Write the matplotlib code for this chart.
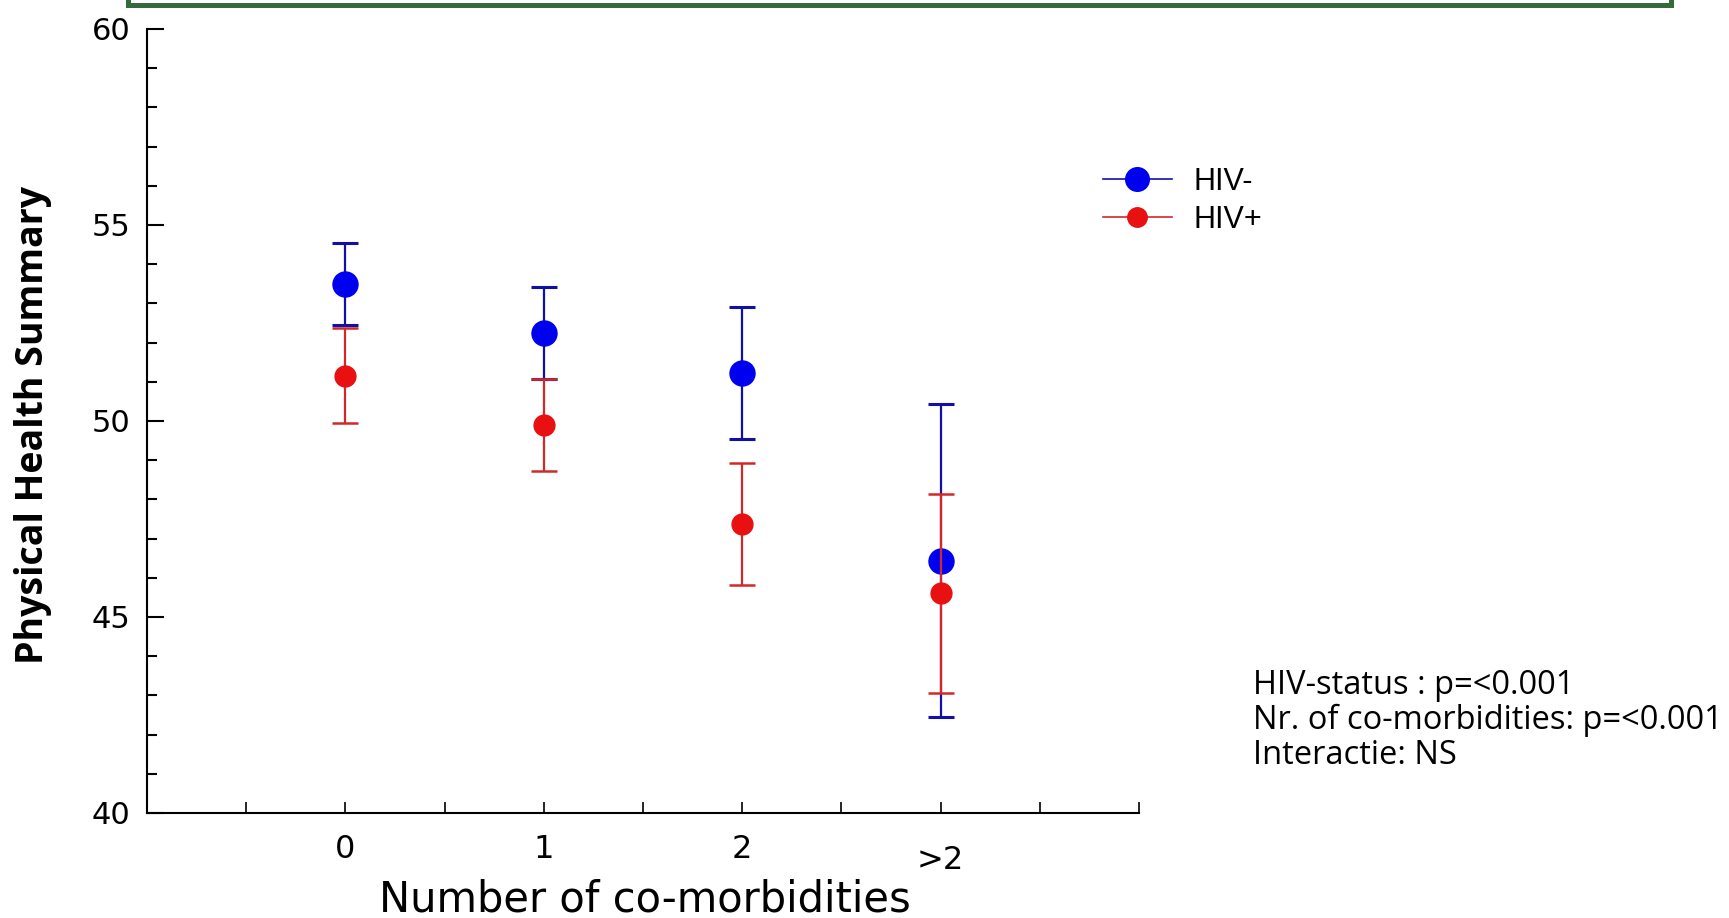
"""Physical health summary by number of co-morbidities, HIV- vs HIV+."""

import matplotlib
matplotlib.use("Agg")
import matplotlib.pyplot as plt
import matplotlib.transforms as mtransforms
import numpy as np
from matplotlib.lines import Line2D
from matplotlib.patches import Rectangle
from matplotlib.ticker import FixedLocator, MultipleLocator

categories = ["0", "1", "2", ">2"]
hiv_neg_mean = [53.5, 52.24, 51.23, 46.44]
hiv_neg_err = [1.05, 1.17, 1.69, 4.0]
hiv_pos_mean = [51.16, 49.9, 47.38, 45.61]
hiv_pos_err = [1.21, 1.17, 1.56, 2.54]

stats_lines = [
    "HIV-status : p=<0.001",
    "Nr. of co-morbidities: p=<0.001",
    "Interactie: NS",
]

W, H = 1729, 918
BLUE = "#0000f0"
BLUE_ERR = "#1010a8"
RED = "#e81010"
RED_ERR = "#d42828"
GREEN = "#336b3c"


def px(x, y):
    """Pixel position (from top-left) to figure fraction."""
    return x / W, 1 - y / H


fig = plt.figure(figsize=(W / 100, H / 100), dpi=100)
ax = fig.add_axes([147 / W, 1 - 813 / H, (1139 - 147) / W, (813 - 29) / H])

x = np.arange(len(categories))

ax.errorbar(x, hiv_neg_mean, yerr=hiv_neg_err, fmt="o", color=BLUE,
            markeredgecolor=BLUE, ecolor=BLUE_ERR, elinewidth=1.6,
            capsize=9.5, capthick=2.2, markersize=18, zorder=3)
ax.errorbar(x, hiv_pos_mean, yerr=hiv_pos_err, fmt="o", color=RED,
            markeredgecolor=RED, ecolor=RED_ERR, elinewidth=1.6,
            capsize=9.5, capthick=1.8, markersize=15, zorder=4)

ax.set_xlim(-1, 4)
ax.set_ylim(40, 60)

ax.spines["top"].set_visible(False)
ax.spines["right"].set_visible(False)
ax.spines["left"].set_linewidth(1.5)
ax.spines["bottom"].set_linewidth(1.5)

ax.set_yticks([40, 45, 50, 55, 60])
ax.yaxis.set_minor_locator(MultipleLocator(1))
ax.tick_params(axis="y", which="major", direction="in", length=12, width=1.5,
               pad=12, labelsize=22)
ax.tick_params(axis="y", which="minor", direction="in", length=7, width=1.5)

ax.set_xticks(x)
ax.set_xticklabels(categories, family="Liberation Sans Narrow")
ax.xaxis.set_minor_locator(FixedLocator([-0.5, 0.5, 1.5, 2.5, 3.5, 4.0]))
ax.tick_params(axis="x", which="both", direction="in", length=8, width=1.2,
               pad=15, labelsize=23)

# the ">2" label sits a bit lower than the others
shift = mtransforms.ScaledTranslation(0, -11 / 100, fig.dpi_scale_trans)
last = ax.get_xticklabels()[-1]
last.set_transform(last.get_transform() + shift)

ax.set_xlabel("Number of co-morbidities", fontsize=30, family="DejaVu Sans")
ax.xaxis.set_label_coords((645 - 147) / 992, (813 - 900) / 784)
ax.xaxis.label.set_va("center")

ax.set_ylabel("Physical Health Summary", fontsize=27, fontweight="bold",
              family="Open Sans")
ax.yaxis.set_label_coords((33 - 147) / 992, (813 - 425) / 784)
ax.yaxis.label.set_va("center")

handles = [
    Line2D([], [], color=BLUE_ERR, lw=1.2, marker="o", markersize=17,
           markerfacecolor=BLUE, markeredgecolor=BLUE),
    Line2D([], [], color=RED_ERR, lw=1.2, marker="o", markersize=14,
           markerfacecolor=RED, markeredgecolor=RED),
]
fig.legend(handles, ["HIV-", "HIV+"], loc="upper left",
           bbox_to_anchor=px(1103, 167), frameon=False,
           prop={"family": "Liberation Sans", "size": 22},
           handlelength=2.25, handletextpad=0.7, labelspacing=0.25,
           borderpad=0, borderaxespad=0)

for i, line in enumerate(stats_lines):
    fig.text(*px(1253, 685 + i * 35.5), line, fontsize=23.5,
             family="Open Sans", ha="left", va="center")

# bottom edge of the green title box above the chart
fig.patches.append(Rectangle(px(127.5, 4.5), (1670.5 - 127.5) / W, 40 / H,
                             transform=fig.transFigure, facecolor="white",
                             edgecolor=GREEN, linewidth=3.6, clip_on=False))

fig.savefig("out.png", dpi=100)
